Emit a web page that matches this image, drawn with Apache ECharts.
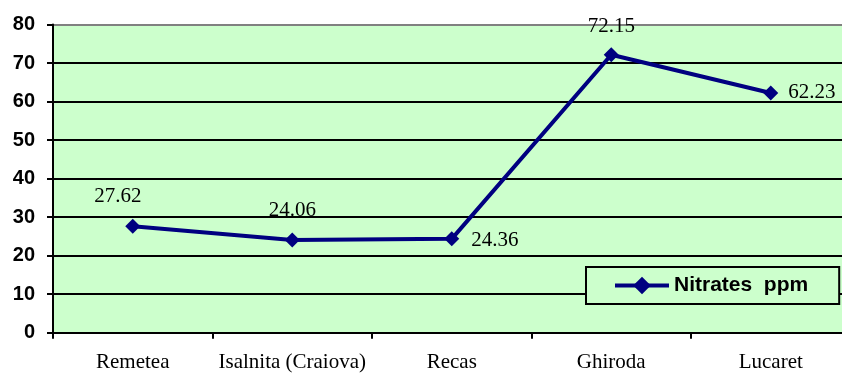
<!DOCTYPE html>
<html>
<head>
<meta charset="utf-8">
<script src="https://cdn.jsdelivr.net/npm/echarts@6/dist/echarts.min.js"></script>
<style>
  html, body { margin: 0; padding: 0; background: #ffffff; }
  #chart { width: 842px; height: 374px; }
</style>
</head>
<body>
<div id="chart"></div>
<script>
// Sampling sites and measured nitrate levels
const sites = ['Remetea', 'Isalnita (Craiova)', 'Recas', 'Ghiroda', 'Lucaret'];
const nitrates = [27.62, 24.06, 24.36, 72.15, 62.23];
const seriesName = 'Nitrates  ppm';

// Where each value label sits relative to its point
const labelPlacement = [
  { position: 'top', offset: [-15, 0] },
  { position: 'top', offset: [0, 0] },
  { position: 'right', offset: [0, 2] },
  { position: 'top', offset: [0, 2] },
  { position: 'right', offset: [-2, 0] }
];

const SERIF = '"Liberation Serif", "Times New Roman", serif';
const SANS = '"Liberation Sans", Arial, sans-serif';

const chart = echarts.init(document.getElementById('chart'), null, { renderer: 'canvas' });

const gridColors = ['#000000', '#000000', '#000000', '#000000', '#000000',
                    '#000000', '#000000', '#000000', '#808080'];

chart.setOption({
  animation: false,
  grid: {
    left: 53,
    top: 24.5,
    width: 797.5,
    height: 308.2,
    outerBoundsMode: 'none',
    containLabel: false,
    show: true,
    backgroundColor: '#CCFFCC',
    borderWidth: 0
  },
  legend: {
    show: true,
    left: 586,
    top: 267,
    orient: 'horizontal',
    padding: [8, 31, 8, 27],
    itemWidth: 54,
    itemHeight: 22,
    itemGap: 5,
    backgroundColor: '#CCFFCC',
    borderColor: '#000000',
    borderWidth: 2,
    borderRadius: 0,
    lineStyle: { width: 4, color: '#000080' },
    textStyle: {
      fontFamily: SANS,
      fontWeight: 'bold',
      fontSize: 21,
      lineHeight: 21,
      color: '#000000'
    },
    data: [seriesName]
  },
  xAxis: {
    type: 'category',
    data: sites,
    boundaryGap: true,
    axisLine: { show: true, lineStyle: { color: '#000000', width: 2 } },
    axisTick: { show: true, alignWithLabel: false, length: 6, lineStyle: { color: '#000000', width: 2 } },
    axisLabel: {
      margin: 19,
      fontFamily: SERIF,
      fontSize: 21,
      color: '#000000',
      interval: 0
    },
    splitLine: { show: false }
  },
  yAxis: {
    type: 'value',
    min: 0,
    max: 80,
    interval: 10,
    axisLine: { show: true, lineStyle: { color: '#000000', width: 2 } },
    axisTick: { show: true, length: 6, lineStyle: { color: '#000000', width: 2 } },
    axisLabel: {
      margin: 18,
      fontFamily: SANS,
      fontWeight: 'bold',
      fontSize: 20,
      color: '#000000'
    },
    splitLine: { show: true, lineStyle: { color: gridColors, width: 2 } }
  },
  series: [{
    name: seriesName,
    type: 'line',
    data: nitrates.map((v, i) => ({
      value: v,
      label: {
        position: labelPlacement[i].position,
        offset: labelPlacement[i].offset
      }
    })),
    symbol: 'diamond',
    symbolSize: 15,
    lineStyle: { color: '#000080', width: 4 },
    itemStyle: { color: '#000080' },
    label: {
      show: true,
      distance: 12,
      fontFamily: SERIF,
      fontSize: 21,
      color: '#000000',
      formatter: (p) => p.value.toFixed(2)
    },
    z: 3
  }]
});
</script>
</body>
</html>
